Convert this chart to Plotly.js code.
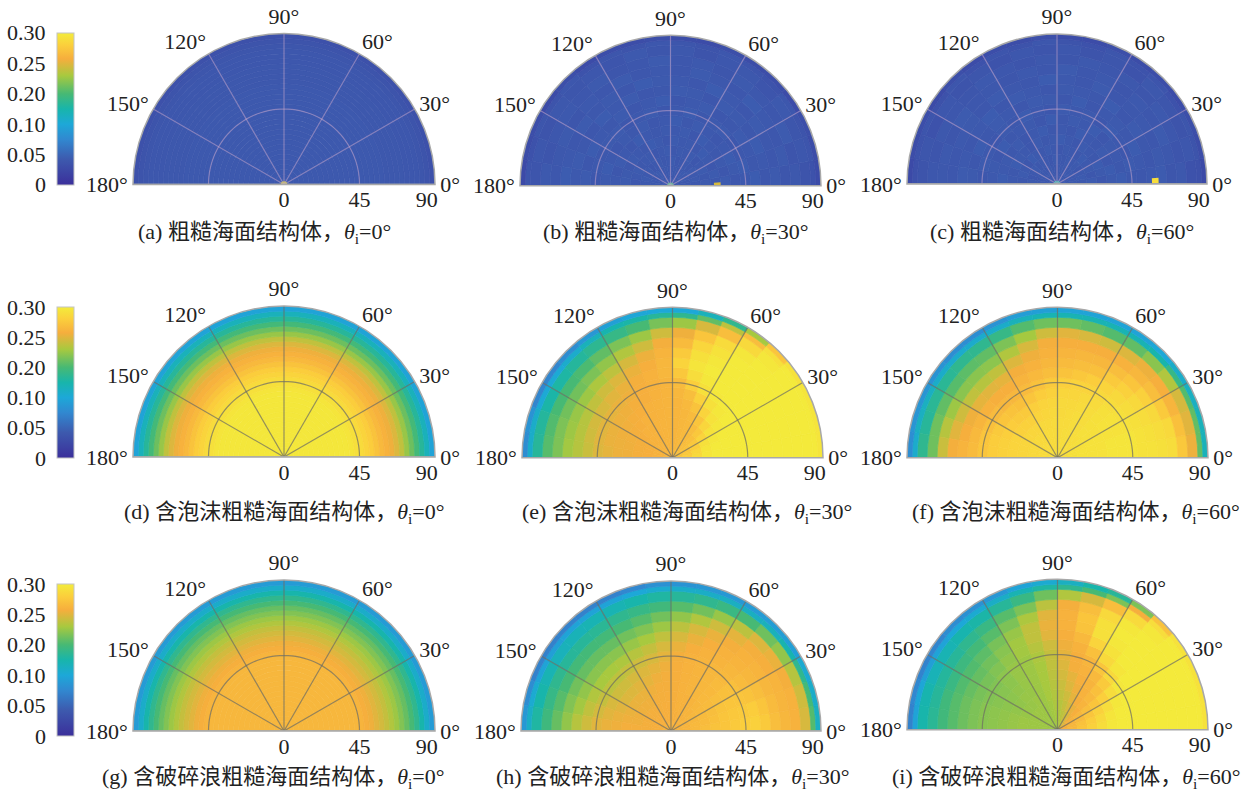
<!DOCTYPE html>
<html><head><meta charset="utf-8">
<script src="https://cdn.plot.ly/plotly-3.0.1.min.js"></script>
<style>html,body{margin:0;padding:0;background:#fff}#p{width:1254px;height:791px}</style>
</head><body><div id="p"></div>
<script>
// Values: colour-bar position x 1000 (0..300)
const ringCentersFine=[1.5,4.5,7.5,10.5,13.5,16.5,19.5,22.5,25.5,28.5,31.5,34.5,37.5,40.5,43.5,46.5,49.5,52.5,55.5,58.5,61.5,64.5,67.5,70.5,73.5,76.5,79.5,82.5,85.5,88.5];
const ringWidthsFine=ringCentersFine.map(()=>3);
const ringCenters=[3,9,15,21,27,33,39,45,51,57,63,69,75,81,85.5,88.5];
const ringWidths=[6,6,6,6,6,6,6,6,6,6,6,6,6,6,3,3];
const sectorCenters=[5,15,25,35,45,55,65,75,85,95,105,115,125,135,145,155,165,175];
const colorbarTicks=[0,60,120,180,240,300];
const colorbarLabels=['0','0.05','0.10','0.20','0.25','0.30'];
const radialTicks=[0,45,90];
const radialLabels=['0','45','90\u00a0\u00a0\u00a0'];
const angleTicks=[0,30,60,90,120,150,180];

const profileA=[52,50,50,50,50,50,50,50,50,50,50,50,50,50,50,50,50,50,50,50,49,49,49,49,48,48,47,46,44,40];
const profileD=[296,296,296,296,296,296,296,296,296,296,296,296,296,294,290,286,280,274,266,258,252,246,238,226,210,194,178,160,140,115];
const profileG=[256,256,256,256,256,256,256,256,256,256,256,256,256,256,256,254,250,246,240,234,228,220,212,202,192,180,166,150,130,108];

const tableB=[
[50,50,50,50,50,50,50,50,50,50,50,50,50,50,50,50,50,50],
[50,49,51,50,52,50,49,51,50,50,51,49,50,52,50,49,50,51],
[48,51,50,52,49,51,50,48,52,50,49,51,50,48,51,50,52,50],
[51,49,52,50,48,52,50,51,49,52,50,48,51,50,49,52,50,48],
[49,52,48,51,53,49,51,50,52,48,51,53,49,50,52,49,51,52],
[52,48,51,49,50,53,48,52,50,51,49,50,53,48,50,52,48,50],
[48,51,53,50,48,50,52,49,53,50,48,52,49,51,48,50,53,51],
[50,53,49,48,52,51,49,53,50,48,52,50,47,52,51,49,50,48],
[53,49,50,52,49,47,52,50,48,53,50,47,52,49,50,53,48,52],
[48,50,53,49,51,52,48,51,52,49,47,52,50,53,48,49,52,50],
[51,47,49,52,48,50,53,47,50,51,53,48,51,49,52,47,50,53],
[46,51,48,50,53,47,49,52,48,50,47,52,48,50,46,51,49,47],
[49,45,52,47,49,51,46,50,47,52,48,46,51,47,50,48,45,50],
[44,48,46,50,45,49,47,44,49,46,50,45,48,46,49,44,47,45],
[42,45,44,47,43,45,47,44,46,48,44,46,43,47,44,46,42,45],
[34,36,38,34,37,35,38,34,36,38,35,37,34,38,33,37,35,32]];
const tableC=[
[50,50,50,50,50,50,50,50,50,50,50,50,50,50,50,50,50,50],
[51,50,49,51,50,50,49,51,50,49,50,51,49,50,50,51,49,50],
[49,52,50,48,51,50,52,49,50,52,48,50,51,49,52,50,48,51],
[52,48,51,50,53,49,50,51,48,50,52,49,51,53,48,50,52,49],
[48,51,53,49,50,52,48,50,53,51,49,52,48,50,51,53,49,50],
[51,53,48,52,49,50,53,48,50,49,53,50,47,52,49,51,50,53],
[53,49,50,51,48,53,50,52,49,53,48,51,50,49,53,48,51,50],
[49,52,48,50,53,47,51,50,52,48,50,53,49,51,47,50,52,48],
[47,50,53,49,51,50,48,53,47,51,52,48,50,52,49,53,47,51],
[50,48,49,52,47,53,49,50,51,47,50,52,48,53,50,47,50,52],
[52,51,47,50,49,48,52,47,50,53,48,49,52,47,51,50,48,47],
[46,49,52,47,50,46,50,48,52,47,50,46,49,48,52,46,50,49],
[49,45,48,50,46,49,47,50,46,49,45,48,50,46,47,49,45,48],
[42,47,44,46,49,43,46,44,48,45,47,43,46,44,48,42,46,44],
[40,44,46,42,45,43,46,42,44,47,43,45,42,46,41,45,43,40],
[32,36,38,34,37,35,38,34,36,39,35,37,34,38,33,37,35,32]];
const tableE=[
[268,266,265,264,262,262,260,258,256,255,254,254,254,254,254,254,254,254],
[275,272,268,265,262,260,258,256,255,254,254,254,254,253,253,252,252,252],
[285,282,275,270,264,260,258,256,255,254,254,253,253,252,252,251,250,250],
[295,294,290,280,270,262,258,256,255,254,254,253,252,252,250,248,248,248],
[298,298,296,292,282,268,260,256,255,254,253,252,252,250,248,247,246,246],
[298,298,298,296,292,280,266,258,255,254,253,252,250,248,247,246,245,245],
[298,298,298,298,296,290,278,262,256,254,252,250,248,246,245,244,244,242],
[298,298,298,298,298,296,290,275,260,254,252,250,246,244,242,240,240,238],
[298,298,298,298,298,298,296,288,270,256,252,248,244,240,236,234,232,230],
[298,298,298,298,298,298,298,294,280,256,250,244,238,232,226,222,222,222],
[298,298,298,298,298,298,296,290,272,254,245,235,225,218,212,210,212,214],
[298,298,298,298,298,298,292,282,260,248,232,220,208,200,196,196,200,200],
[298,298,298,298,298,296,286,268,246,232,212,200,190,182,180,180,184,186],
[298,298,298,298,296,284,262,236,212,198,180,170,164,158,154,152,158,160],
[298,298,298,298,290,262,225,190,165,160,152,148,140,128,122,122,130,130],
[294,294,294,292,268,215,165,140,120,120,118,112,104,95,88,88,100,95]];
const tableF=[
[288,288,288,288,288,288,288,288,288,288,288,288,288,288,288,288,288,288],
[290,290,290,288,288,288,288,288,288,286,286,286,286,286,286,286,286,286],
[292,292,290,290,288,288,288,288,286,286,286,286,284,284,284,284,284,284],
[292,292,292,290,290,288,288,286,286,286,284,284,282,282,282,282,282,282],
[292,292,292,290,290,288,288,286,284,284,282,280,278,278,278,280,280,280],
[294,294,292,292,290,288,286,284,284,282,280,276,272,272,274,276,278,278],
[294,294,292,292,290,286,284,282,282,278,274,268,264,266,268,272,274,274],
[294,294,292,290,288,284,280,280,276,272,265,260,256,256,260,264,268,268],
[292,292,290,288,284,280,274,270,266,262,258,254,250,250,252,255,258,260],
[292,290,288,284,278,272,264,262,260,256,252,248,242,240,242,246,250,254],
[290,288,284,278,268,262,256,256,255,252,246,238,226,222,226,232,240,248],
[288,284,272,262,256,252,250,250,250,248,236,220,206,205,205,212,222,230],
[270,264,255,250,245,238,232,236,240,232,215,200,190,188,186,190,195,195],
[245,240,235,220,205,190,185,190,195,195,185,170,165,165,162,162,160,165],
[190,190,185,170,150,145,145,145,145,145,140,130,128,128,130,135,135,128],
[140,140,135,130,120,115,115,115,115,112,110,100,96,96,100,102,102,96]];
const tableH=[
[252,252,252,252,252,252,252,252,252,252,252,252,252,252,252,252,252,252],
[254,254,254,254,252,252,252,250,250,250,250,250,250,250,250,250,250,250],
[258,258,256,256,254,254,252,252,250,250,250,248,248,248,248,248,248,248],
[262,260,260,258,256,254,252,252,250,250,248,248,246,246,246,246,246,248],
[266,264,262,260,258,256,254,252,250,248,248,246,244,244,244,244,246,248],
[268,268,266,262,258,256,254,252,250,248,246,242,240,238,238,240,244,246],
[272,270,268,264,260,256,254,252,250,246,242,238,235,232,232,236,240,244],
[275,272,268,264,258,256,254,252,248,242,236,232,228,225,225,228,234,240],
[278,274,266,260,256,254,252,250,244,236,228,222,218,216,216,220,226,232],
[272,268,262,256,254,252,250,244,236,226,216,210,205,205,205,208,214,222],
[262,260,256,254,252,248,244,236,224,212,202,196,192,192,192,196,202,208],
[256,255,254,250,248,242,232,220,208,196,186,180,178,178,178,180,186,192],
[252,252,248,244,238,224,210,196,186,176,170,165,162,160,160,165,170,175],
[236,232,222,208,195,180,172,165,160,155,150,145,145,142,140,145,150,155],
[185,178,165,148,140,136,135,132,130,126,120,115,115,115,112,115,125,132],
[135,130,125,112,110,108,105,104,100,98,90,85,85,85,84,85,95,105]];
const tableI=[
[250,250,248,246,240,235,228,222,218,216,214,212,212,212,212,212,212,212],
[258,256,254,252,246,238,230,224,220,216,214,212,212,212,212,212,212,212],
[268,265,260,256,250,244,236,228,222,218,214,212,212,212,212,212,212,212],
[278,274,268,262,254,250,242,232,226,220,216,212,212,210,210,210,212,212],
[288,284,278,268,258,252,246,238,230,222,216,212,210,210,208,208,210,210],
[296,294,288,276,264,254,250,242,234,224,216,212,210,208,206,206,208,208],
[298,298,296,288,272,258,252,248,238,226,216,212,210,206,204,204,206,206],
[298,298,298,296,284,268,255,250,242,228,218,212,210,206,202,202,204,204],
[298,298,298,298,294,284,264,252,246,232,222,214,208,202,198,198,200,200],
[298,298,298,298,298,292,280,258,250,240,226,214,204,196,192,192,194,194],
[298,298,298,298,298,296,290,266,252,244,226,210,198,188,184,184,186,186],
[298,298,298,298,298,298,290,268,252,240,218,200,186,178,174,172,176,176],
[298,298,298,298,298,296,284,262,248,224,200,186,172,165,160,158,160,162],
[298,298,298,298,296,285,262,235,220,195,172,160,152,148,145,142,148,150],
[298,298,298,298,288,250,200,180,165,155,145,132,125,120,115,112,118,115],
[292,292,292,292,265,200,160,150,135,125,115,104,98,95,88,86,90,85]];

// Small specular spots seen on the lower edge: [r, theta, dr, dtheta, value]
const spotsA=[[1,90,2,180,225]];
const spotsB=[[1,90,2,180,170],[28,2,4,4,235]];
const spotsC=[[1,90,2,180,150],[59,2,4,3,288]];

const captionLetters=['(a) ','(b) ','(c) ','(d) ','(e) ','(f) ','(g) ','(h) ','(i) '];
const captionNames=['粗糙海面结构体','粗糙海面结构体','粗糙海面结构体','含泡沫粗糙海面结构体','含泡沫粗糙海面结构体','含泡沫粗糙海面结构体','含破碎浪粗糙海面结构体','含破碎浪粗糙海面结构体','含破碎浪粗糙海面结构体'];
const captionAngles=['0°','30°','60°','0°','30°','60°','0°','30°','60°'];

// Layout, separately from the data (pixels)
const W=1254,H=791;
const boxes=[[133,435,33,185],[520,821,35,186],[907,1207,33,185],[133,435,306,457],[522,823,307,458],[907,1208,307,458],[133,435,580,731],[520,822,581,731],[907,1208,579,730]];
const captionX=[136,541,928,122,520,910,100,494,890];
const captionY=[233,233,233,513,513,513,778,778,778];
const barBoxes=[[33,185],[307,458],[584,736]];
const gridColors=['rgba(205,170,205,0.5)','rgba(205,170,205,0.5)','rgba(205,170,205,0.5)','rgba(110,110,100,0.72)','rgba(110,110,100,0.72)','rgba(110,110,100,0.72)','rgba(110,110,100,0.72)','rgba(110,110,100,0.72)','rgba(110,110,100,0.72)'];
const FONT='"Liberation Serif","Noto Sans CJK SC",serif';
const colorscale=[[0,'#3b2f9b'],[0.17,'#3d5aae'],[0.3,'#3188d0'],[0.4,'#1da8d8'],[0.5,'#18b5ab'],[0.6,'#47b974'],[0.72,'#a8c93f'],[0.83,'#f6ae3d'],[0.92,'#fbcf3c'],[1,'#f3ec3b']];

function flatten(table,rings,widths,thetas,dt){
  const o={r:[],base:[],theta:[],width:[],color:[]};
  table.forEach((row,i)=>row.forEach((v,j)=>{
    o.r.push(widths[i]);o.base.push(rings[i]-widths[i]/2);o.theta.push(thetas[j]);o.width.push(dt);o.color.push(v/1000);
  }));
  return o;
}
function profileTable(p){return p.map(v=>[v]);}
const panels=[
 flatten(profileTable(profileA),ringCentersFine,ringWidthsFine,[90],180),
 flatten(tableB,ringCenters,ringWidths,sectorCenters,10),
 flatten(tableC,ringCenters,ringWidths,sectorCenters,10),
 flatten(profileTable(profileD),ringCentersFine,ringWidthsFine,[90],180),
 flatten(tableE,ringCenters,ringWidths,sectorCenters,10),
 flatten(tableF,ringCenters,ringWidths,sectorCenters,10),
 flatten(profileTable(profileG),ringCentersFine,ringWidthsFine,[90],180),
 flatten(tableH,ringCenters,ringWidths,sectorCenters,10),
 flatten(tableI,ringCenters,ringWidths,sectorCenters,10)];
const spots=[spotsA,spotsB,spotsC];

const data=[],layout={width:W,height:H,margin:{l:0,r:0,t:0,b:0},paper_bgcolor:'#fff',showlegend:false,annotations:[],font:{family:FONT,color:'#222'}};
const arcT=[];for(let t=0;t<=180;t+=3)arcT.push(t);
panels.forEach((d,i)=>{
  const sub=i===0?'polar':'polar'+(i+1);
  const row=Math.floor(i/3);
  const ca=row===0?'coloraxis':'coloraxis'+(row+1);
  data.push({type:'barpolar',subplot:sub,r:d.r,base:d.base,theta:d.theta,width:d.width,hoverinfo:'skip',
    marker:{color:d.color,coloraxis:ca,line:{width:0.7,color:d.color,coloraxis:ca}}});
  if(i<3){
    const s=spots[i];
    const c=s.map(q=>q[4]/1000);
    data.push({type:'barpolar',subplot:sub,r:s.map(q=>q[2]),base:s.map(q=>q[0]-q[2]/2),theta:s.map(q=>q[1]),width:s.map(q=>q[3]),hoverinfo:'skip',marker:{color:c,coloraxis:ca,line:{width:0}}});
  }
  const line=(r,theta,color,w)=>data.push({type:'scatterpolar',subplot:sub,mode:'lines',r,theta,hoverinfo:'skip',line:{color,width:w}});
  [30,60,90,120,150].forEach(a=>line([0,90],[a,a],gridColors[i],1.2));
  line(arcT.map(()=>45),arcT,gridColors[i],1.2);
  line([90,0,90],[0,0,180],'#b4b4b4',1.5);
  const b=boxes[i];
  layout[sub]={
    domain:{x:[b[0]/W,b[1]/W],y:[1-b[3]/H,1-b[2]/H]},
    sector:[0,180],bgcolor:'#fff',barmode:'overlay',
    radialaxis:{range:[0,90],angle:0,side:'clockwise',tickangle:0,tickmode:'array',tickvals:radialTicks,ticktext:radialLabels,showgrid:false,showline:false,ticks:'',tickfont:{family:FONT,size:22,color:'#222'},layer:'above traces'},
    angularaxis:{direction:'counterclockwise',rotation:0,thetaunit:'degrees',tickmode:'array',tickvals:angleTicks,ticktext:angleTicks.map(a=>a+'°'),showgrid:false,ticks:'',linecolor:'#a8a8a8',linewidth:1.5,tickfont:{family:FONT,size:22,color:'#222'}}
  };
  layout.annotations.push({xref:'paper',yref:'paper',x:captionX[i]/W,y:1-captionY[i]/H,xanchor:'left',yanchor:'middle',showarrow:false,
    text:captionLetters[i]+captionNames[i]+'，<i>θ</i><sub>i</sub>='+captionAngles[i],font:{family:FONT,size:22,color:'#222'}});
});
barBoxes.forEach((bb,k)=>{
  const name=k===0?'coloraxis':'coloraxis'+(k+1);
  layout[name]={cmin:0,cmax:0.3,colorscale,colorbar:{x:57/W,xanchor:'left',y:1-bb[1]/H,yanchor:'bottom',yref:'paper',lenmode:'fraction',len:(bb[1]-bb[0])/H,thicknessmode:'pixels',thickness:17,xpad:0,ypad:0,outlinewidth:1,outlinecolor:'#c4c4c4',showticklabels:false,ticks:'',tickmode:'array',tickvals:colorbarTicks.map(v=>v/1000)}};
  colorbarTicks.forEach((v,j)=>{
    const py=bb[1]-(bb[1]-bb[0])*v/300;
    layout.annotations.push({xref:'paper',yref:'paper',x:48/W,y:1-py/H,xanchor:'right',yanchor:'middle',showarrow:false,text:colorbarLabels[j],font:{family:FONT,size:22,color:'#222'}});
  });
});
Plotly.newPlot('p',data,layout,{displayModeBar:false,responsive:false});
</script></body></html>
